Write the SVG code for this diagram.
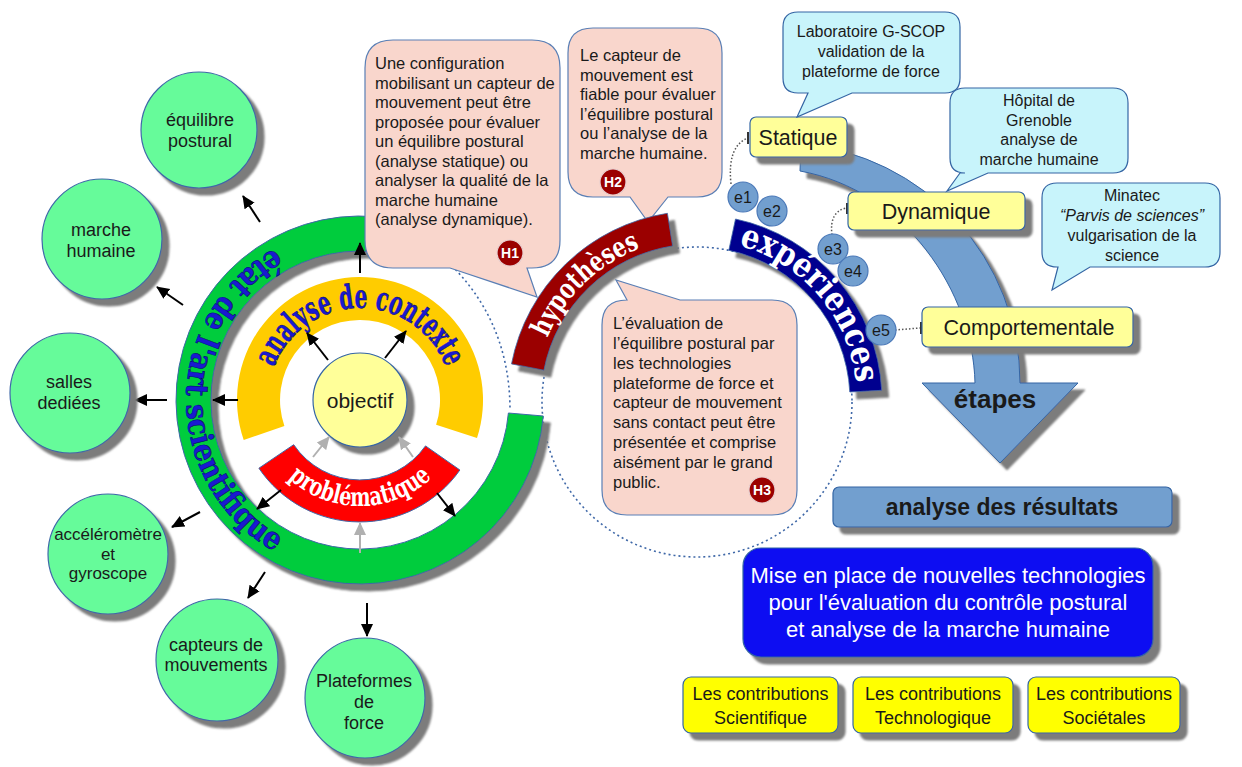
<svg xmlns="http://www.w3.org/2000/svg" xmlns:xlink="http://www.w3.org/1999/xlink" width="1242" height="767" viewBox="0 0 1242 767">
<defs>
<style>
.t{font-family:"Liberation Sans",Arial,sans-serif;fill:#1a1a1a}
.c{text-anchor:middle}
.ser{font-family:"DejaVu Serif","Liberation Serif",serif}
.gc{fill:#66fb9a;stroke:#3f68a8;stroke-width:1.2}
.yb{fill:#ffff99;stroke:#3465a4;stroke-width:1.2}
.yc{fill:#ffff00;stroke:#3465a4;stroke-width:1.2}
.pk{fill:#f9d6cc;stroke:#5a7fb5;stroke-width:1.2}
.bl{fill:#c8f4fb;stroke:#3465a4;stroke-width:1.2}
.ec{fill:#729fcf;stroke:#4a78b8;stroke-width:1.2}
.ar{stroke:#000;stroke-width:2;fill:none}
.ag{stroke:#b0b0b0;stroke-width:2;fill:none}
.dot{fill:none;stroke:#3f68a8;stroke-width:1.6;stroke-dasharray:2 3}
.dk{fill:none;stroke:#555;stroke-width:1.5;stroke-dasharray:1.5 2}
.badge{fill:#9b0000;stroke:#e8d0d0;stroke-width:1.2}
.bt{font-family:"Liberation Sans",Arial,sans-serif;font-weight:bold;font-size:14px;fill:#fff;text-anchor:middle}
</style>
<filter id="sh" x="-20%" y="-20%" width="150%" height="150%">
<feDropShadow dx="7" dy="7" stdDeviation="1.2" flood-color="#7c7c7c" flood-opacity="1"/>
</filter>
<marker id="ah" markerUnits="userSpaceOnUse" markerWidth="14" markerHeight="14" refX="12" refY="7" orient="auto">
<path d="M0,1 L13,7 L0,13 Z" fill="#000"/>
</marker>
<marker id="ahg" markerUnits="userSpaceOnUse" markerWidth="14" markerHeight="14" refX="12" refY="7" orient="auto">
<path d="M0,1 L13,7 L0,13 Z" fill="#b0b0b0"/>
</marker>
<path id="pCtx" d="M271.1,376.2 A92,92 0 0 1 448.9,376.2"/>
<path id="pEtat" d="M300.5,236.5 A174,174 0 0 0 300.5,563.5"/>
<path id="pProb" d="M268.2,453 A106,106 0 0 0 451.8,453"/>
<path id="pHyp" d="M538,369.1 A162,162 0 0 1 671.7,240"/>
<path id="pExp" d="M730.3,243.5 A160,160 0 0 1 856.8,391.6"/>
</defs>
<rect width="1242" height="767" fill="#fff"/>

<g id="dotted-guides">
<circle class="dot" cx="697" cy="402" r="155"/>
<path class="dot" d="M452,266 C482,296 510,342 510,410"/>
</g>

<g id="etat-de-l-art">
<path filter="url(#sh)" d="M543.3,416 A184,184 0 1 1 376,216.7 L373,251.6 A149,149 0 1 0 508.4,413 Z" fill="#00cc3d" stroke="#3f68a8" stroke-width="1"/>
<text class="ser" font-size="31" font-weight="bold" fill="#1a1ad0" stroke="#00006a" stroke-width="0.5" text-anchor="middle"><textPath href="#pEtat" startOffset="50%" textLength="368" lengthAdjust="spacingAndGlyphs">état de l'art scientifique</textPath></text>
</g>

<g id="analyse-de-contexte">
<path d="M243.7,440 A123,123 0 1 1 477,438 L436.1,424.7 A80,80 0 1 0 284.4,426 Z" fill="#ffcc00"/>
<text class="ser" font-size="33" font-weight="bold" fill="#1a1ad0" stroke="#00006a" stroke-width="0.5" text-anchor="middle"><textPath href="#pCtx" startOffset="50%" textLength="222" lengthAdjust="spacingAndGlyphs">analyse de contexte</textPath></text>
</g>

<g id="problematique">
<path d="M459.9,470 A122,122 0 0 1 258.9,468.2 L293.7,444.7 A80,80 0 0 0 425.5,445.9 Z" fill="#ff0000" stroke="#3f68a8" stroke-width="1"/>
<text class="ser" font-size="26" font-weight="bold" fill="#fff" text-anchor="middle"><textPath href="#pProb" startOffset="50%" textLength="158" lengthAdjust="spacingAndGlyphs">problématique</textPath></text>
</g>

<g id="objectif">
<circle filter="url(#sh)" class="yb" cx="360" cy="400" r="47"/>
<text class="t c" x="360" y="408" font-size="21">objectif</text>
</g>

<g id="connectors">
<line class="ar" marker-end="url(#ah)" x1="260" y1="222" x2="243" y2="196"/>
<line class="ar" marker-end="url(#ah)" x1="183" y1="305" x2="157" y2="287"/>
<line class="ar" marker-end="url(#ah)" x1="167" y1="400" x2="135" y2="400"/>
<line class="ar" marker-end="url(#ah)" x1="200" y1="512" x2="172" y2="527"/>
<line class="ar" marker-end="url(#ah)" x1="265" y1="572" x2="248" y2="598"/>
<line class="ar" marker-end="url(#ah)" x1="367" y1="603" x2="367" y2="636"/>
<line class="ar" marker-end="url(#ah)" x1="360" y1="273" x2="360" y2="243"/>
<line class="ar" marker-end="url(#ah)" x1="238" y1="400" x2="213" y2="400"/>
<line class="ar" marker-end="url(#ah)" x1="328" y1="360" x2="307" y2="333"/>
<line class="ar" marker-end="url(#ah)" x1="385" y1="358" x2="406" y2="331"/>
<line class="ar" marker-end="url(#ah)" x1="281" y1="490" x2="257" y2="509"/>
<line class="ar" marker-end="url(#ah)" x1="437" y1="493" x2="455" y2="516"/>
<line class="ag" marker-end="url(#ahg)" x1="313" y1="457" x2="329" y2="437"/>
<line class="ag" marker-end="url(#ahg)" x1="413" y1="457" x2="399" y2="437"/>
<line class="ag" marker-end="url(#ahg)" x1="360" y1="553" x2="360" y2="523"/>
<path class="dk" d="M731,184 Q727,146 748,138"/>
<path class="dk" d="M832,235 Q829,212 846,208"/>
<path class="dk" d="M895,330 L920,328"/>
<line x1="748" y1="132" x2="748" y2="144" stroke="#333" stroke-width="2"/>
<line x1="847" y1="203" x2="847" y2="214" stroke="#333" stroke-width="2"/>
<line x1="921" y1="322" x2="921" y2="334" stroke="#333" stroke-width="2"/>
</g>

<g id="equilibre-postural">
<circle filter="url(#sh)" class="gc" cx="199" cy="130" r="58"/>
<text class="t c" font-size="18"><tspan x="200" y="126">équilibre</tspan><tspan x="200" y="147">postural</tspan></text>
</g>
<g id="marche-humaine">
<circle filter="url(#sh)" class="gc" cx="102" cy="239" r="60"/>
<text class="t c" font-size="18"><tspan x="101" y="236">marche</tspan><tspan x="101" y="257">humaine</tspan></text>
</g>
<g id="salles-dediees">
<circle filter="url(#sh)" class="gc" cx="70" cy="393" r="60"/>
<text class="t c" font-size="18"><tspan x="69" y="388">salles</tspan><tspan x="69" y="409">dediées</tspan></text>
</g>
<g id="accelerometre">
<circle filter="url(#sh)" class="gc" cx="108" cy="554" r="60"/>
<text class="t c" font-size="17"><tspan x="108" y="540">accéléromètre</tspan><tspan x="108" y="560">et</tspan><tspan x="108" y="579">gyroscope</tspan></text>
</g>
<g id="capteurs-mouvements">
<circle filter="url(#sh)" class="gc" cx="217" cy="660" r="61"/>
<text class="t c" font-size="18"><tspan x="216" y="651">capteurs de</tspan><tspan x="216" y="671">mouvements</tspan></text>
</g>
<g id="plateformes-force">
<circle filter="url(#sh)" class="gc" cx="365" cy="698" r="60"/>
<text class="t c" font-size="18"><tspan x="364" y="687">Plateformes</tspan><tspan x="364" y="708">de</tspan><tspan x="364" y="729">force</tspan></text>
</g>

<g id="H1">
<path class="pk" d="M393,40 H532 Q560,40 560,68 V240 Q560,268 532,268 H527 L537,297 L450,268 H393 Q365,268 365,240 V68 Q365,40 393,40 Z"/>
<text class="t" font-size="16.5" fill="#2a2a2a"><tspan x="375" y="69">Une configuration</tspan><tspan x="375" y="88.5">mobilisant un capteur de</tspan><tspan x="375" y="108">mouvement peut être</tspan><tspan x="375" y="127.5">proposée pour évaluer</tspan><tspan x="375" y="147">un équilibre postural</tspan><tspan x="375" y="166.5">(analyse statique) ou</tspan><tspan x="375" y="186">analyser la qualité de la</tspan><tspan x="375" y="205.5">marche humaine</tspan><tspan x="375" y="225">(analyse dynamique).</tspan></text>
<circle class="badge" cx="510" cy="253" r="13"/>
<text class="bt" x="510" y="258">H1</text>
</g>

<g id="H2">
<path class="pk" d="M593,28 H697 Q722,28 722,53 V172 Q722,197 697,197 H668 L648,222 L630,197 H593 Q568,197 568,172 V53 Q568,28 593,28 Z"/>
<text class="t" font-size="16.5" fill="#2a2a2a"><tspan x="580" y="61">Le capteur de</tspan><tspan x="580" y="80.5">mouvement est</tspan><tspan x="580" y="100">fiable pour évaluer</tspan><tspan x="580" y="119.5">l’équilibre postural</tspan><tspan x="580" y="139">ou l’analyse de la</tspan><tspan x="580" y="158.5">marche humaine.</tspan></text>
<circle class="badge" cx="613" cy="182" r="13"/>
<text class="bt" x="613" y="187">H2</text>
</g>

<g id="H3">
<path class="pk" d="M627,300 L616,280 L680,300 H772 Q797,300 797,325 V490 Q797,515 772,515 H627 Q602,515 602,490 V325 Q602,300 627,300 Z"/>
<text class="t" font-size="16.5" fill="#2a2a2a"><tspan x="613" y="328.5">L’évaluation de</tspan><tspan x="613" y="348.5">l’équilibre postural par</tspan><tspan x="613" y="368.5">les technologies</tspan><tspan x="613" y="388.5">plateforme de force et</tspan><tspan x="613" y="408">capteur de mouvement</tspan><tspan x="613" y="428">sans contact peut être</tspan><tspan x="613" y="447.5">présentée et comprise</tspan><tspan x="613" y="467.5">aisément par le grand</tspan><tspan x="613" y="487.5">public.</tspan></text>
<circle class="badge" cx="762" cy="490" r="13"/>
<text class="bt" x="762" y="495">H3</text>
</g>

<g id="hypotheses">
<path filter="url(#sh)" d="M511.5,363.9 A189,189 0 0 1 667.4,213.3 L672.6,245.9 A156,156 0 0 0 543.9,370.2 Z" fill="#9b0000" stroke="#3f68a8" stroke-width="0.8"/>
<text class="ser" font-size="28" font-weight="bold" fill="#fff" text-anchor="middle"><textPath href="#pHyp" startOffset="50%" textLength="132" lengthAdjust="spacingAndGlyphs">hypothèses</textPath></text>
</g>

<g id="experiences">
<path filter="url(#sh)" d="M735.5,219 A185,185 0 0 1 881.7,390.3 L849.8,392 A153,153 0 0 0 728.8,250.3 Z" fill="#00008f" stroke="#3f68a8" stroke-width="0.8"/>
<text class="ser" font-size="34" font-weight="bold" fill="#fff" text-anchor="middle"><textPath href="#pExp" startOffset="50%" textLength="192" lengthAdjust="spacingAndGlyphs">expériences</textPath></text>
</g>

<g id="etapes">
<path filter="url(#sh)" d="M800.9,143.9 A240,240 0 0 1 1020,383 L1078,383 L1000,463 L922,383 L975,383 C973,292 905,190 800,171 Z" fill="#729fcf" stroke="#3465a4" stroke-width="1"/>
<text class="t c" x="995" y="408" font-size="26" font-weight="bold" fill="#111">étapes</text>
</g>

<g id="statique">
<rect filter="url(#sh)" class="yb" x="750" y="117" width="97" height="40" rx="6"/>
<text class="t c" x="798" y="145" font-size="21.5">Statique</text>
</g>
<g id="dynamique">
<rect filter="url(#sh)" class="yb" x="848" y="192" width="177" height="38" rx="6"/>
<text class="t c" x="936" y="218.5" font-size="21.5">Dynamique</text>
</g>
<g id="comportementale">
<rect filter="url(#sh)" class="yb" x="922" y="307" width="211" height="40" rx="6"/>
<text class="t c" x="1029" y="335" font-size="21.5">Comportementale</text>
</g>

<g id="e1"><circle class="ec" cx="743" cy="197" r="15"/><text class="t c" x="743" y="203" font-size="16">e1</text></g>
<g id="e2"><circle class="ec" cx="772" cy="211" r="15"/><text class="t c" x="772" y="217" font-size="16">e2</text></g>
<g id="e3"><circle class="ec" cx="833" cy="249" r="15"/><text class="t c" x="833" y="255" font-size="16">e3</text></g>
<g id="e4"><circle class="ec" cx="853" cy="271" r="15"/><text class="t c" x="853" y="277" font-size="16">e4</text></g>
<g id="e5"><circle class="ec" cx="881" cy="330" r="15"/><text class="t c" x="881" y="336" font-size="16">e5</text></g>

<g id="callout-gscop">
<path class="bl" d="M798,12 H945 Q960,12 960,27 V78 Q960,93 945,93 H852 L797,117 L808,93 H798 Q783,93 783,78 V27 Q783,12 798,12 Z"/>
<text class="t c" font-size="16"><tspan x="871" y="37">Laboratoire G-SCOP</tspan><tspan x="871" y="57">validation de la</tspan><tspan x="871" y="77">plateforme de force</tspan></text>
</g>
<g id="callout-hopital">
<path class="bl" d="M965,88 H1113 Q1128,88 1128,103 V158 Q1128,173 1113,173 H988 L947,191 L960,173 H965 Q950,173 950,158 V103 Q950,88 965,88 Z"/>
<text class="t c" font-size="16"><tspan x="1039" y="106">Hôpital de</tspan><tspan x="1039" y="125.5">Grenoble</tspan><tspan x="1039" y="145">analyse de</tspan><tspan x="1039" y="164.5">marche humaine</tspan></text>
</g>
<g id="callout-minatec">
<path class="bl" d="M1057,183 H1205 Q1220,183 1220,198 V252 Q1220,267 1205,267 H1090 L1052,290 L1058,267 H1057 Q1042,267 1042,252 V198 Q1042,183 1057,183 Z"/>
<text class="t c" font-size="16"><tspan x="1132" y="201">Minatec</tspan><tspan x="1132" y="221" font-style="italic">“Parvis de sciences”</tspan><tspan x="1132" y="241">vulgarisation de la</tspan><tspan x="1132" y="261">science</tspan></text>
</g>

<g id="analyse-resultats">
<rect filter="url(#sh)" x="833" y="487" width="339" height="40" rx="6" fill="#729fcf" stroke="#3465a4" stroke-width="1.2"/>
<text class="t c" x="1002" y="515" font-size="23" font-weight="bold" fill="#111">analyse des résultats</text>
</g>

<g id="mise-en-place">
<rect filter="url(#sh)" x="743" y="548" width="410" height="109" rx="18" fill="#0a0af2" stroke="#3465a4" stroke-width="1.2"/>
<text class="t c" font-size="22" style="fill:#fff"><tspan x="948" y="583">Mise en place de nouvelles technologies</tspan><tspan x="948" y="610">pour l'évaluation du contrôle postural</tspan><tspan x="948" y="637">et analyse de la marche humaine</tspan></text>
</g>

<g id="contrib-scientifique">
<rect filter="url(#sh)" class="yc" x="683" y="677" width="155" height="56" rx="8"/>
<text class="t c" font-size="18"><tspan x="760.5" y="700">Les contributions</tspan><tspan x="760.5" y="724">Scientifique</tspan></text>
</g>
<g id="contrib-technologique">
<rect filter="url(#sh)" class="yc" x="853" y="677" width="160" height="56" rx="8"/>
<text class="t c" font-size="18"><tspan x="933" y="700">Les contributions</tspan><tspan x="933" y="724">Technologique</tspan></text>
</g>
<g id="contrib-societales">
<rect filter="url(#sh)" class="yc" x="1028" y="677" width="152" height="56" rx="8"/>
<text class="t c" font-size="18"><tspan x="1104" y="700">Les contributions</tspan><tspan x="1104" y="724">Sociétales</tspan></text>
</g>
</svg>
